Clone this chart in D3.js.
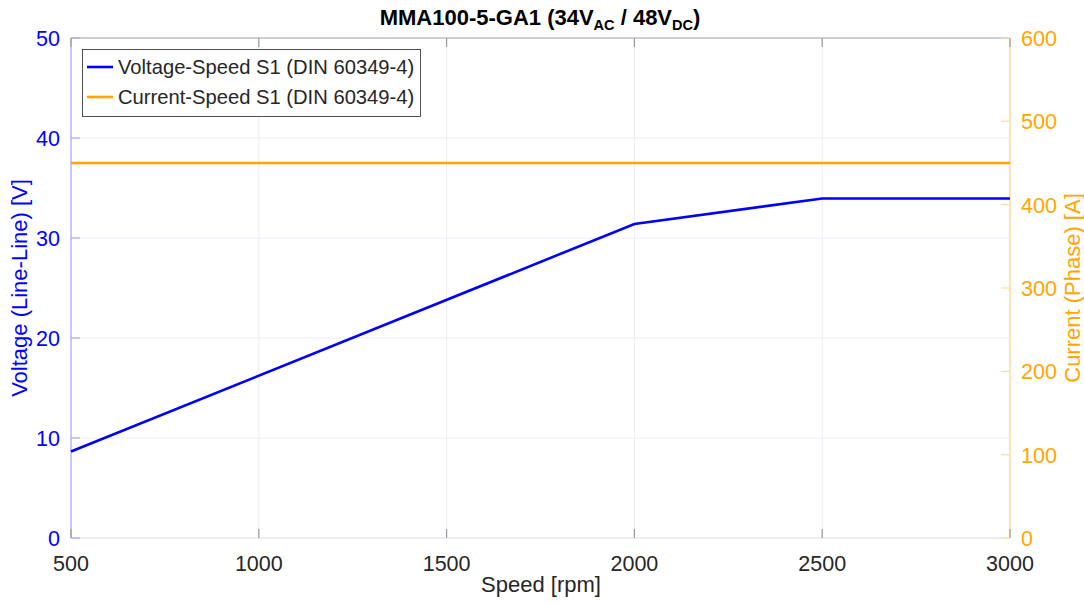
<!DOCTYPE html>
<html><head><meta charset="utf-8">
<script src="https://cdn.jsdelivr.net/npm/d3@7"></script>
<style>body{margin:0;background:#fff;font-family:"Liberation Sans",Arial,sans-serif;}</style>
</head><body>
<svg id="c" width="1084" height="603"></svg>
<script>
const speed = [500, 2000, 2500, 3000];
const voltage = [8.65, 31.4, 33.95, 33.95];
const currentSpeed = [500, 3000];
const current = [450, 450];
const xTicks = [500, 1000, 1500, 2000, 2500, 3000];
const yLeftTicks = [0, 10, 20, 30, 40, 50];
const yRightTicks = [0, 100, 200, 300, 400, 500, 600];

const svg = d3.select("#c");
const L = 71, R = 1010, T = 38, B = 538;
const x = d3.scaleLinear().domain([500, 3000]).range([L, R]);
const yL = d3.scaleLinear().domain([0, 50]).range([B, T]);
const yR = d3.scaleLinear().domain([0, 600]).range([B, T]);
const blue = "#0000ff", orange = "#ffa500";

// grid
svg.append("g").selectAll("line").data(xTicks).join("line")
  .attr("x1", d => x(d)).attr("x2", d => x(d)).attr("y1", T).attr("y2", B)
  .attr("stroke", "#ececf2").attr("stroke-width", 1);
svg.append("g").selectAll("line").data(yLeftTicks).join("line")
  .attr("x1", L).attr("x2", R).attr("y1", d => yL(d)).attr("y2", d => yL(d))
  .attr("stroke", "#ececf8").attr("stroke-width", 1);

// frame
svg.append("line").attr("x1", L).attr("x2", R).attr("y1", T).attr("y2", T).attr("stroke", "#aaaaaa").attr("stroke-width", 1.2);
svg.append("line").attr("x1", L).attr("x2", R).attr("y1", B).attr("y2", B).attr("stroke", "#e6e6ee").attr("stroke-width", 1.2);
svg.append("line").attr("x1", L).attr("x2", L).attr("y1", T).attr("y2", B).attr("stroke", "#a8a8ff").attr("stroke-width", 1.2);
svg.append("line").attr("x1", R).attr("x2", R).attr("y1", T).attr("y2", B).attr("stroke", "#ffdca0").attr("stroke-width", 1.5);

// x ticks (inward, bottom & top)
const fnt = "'Liberation Sans', Arial, sans-serif";
const xg = svg.append("g");
xg.selectAll(".tb").data(xTicks).join("line").attr("x1", d => x(d)).attr("x2", d => x(d)).attr("y1", B).attr("y2", B - 9).attr("stroke", "#999").attr("stroke-width", 1.2);
xg.selectAll(".tt").data(xTicks).join("line").attr("x1", d => x(d)).attr("x2", d => x(d)).attr("y1", T).attr("y2", T + 9).attr("stroke", "#999").attr("stroke-width", 1.2);
xg.selectAll("text").data(xTicks).join("text").attr("x", d => x(d)).attr("y", 571)
  .attr("text-anchor", "middle").attr("font-family", fnt).attr("font-size", 21.5).attr("fill", "#262626").text(d => d);

// left ticks
const lg = svg.append("g");
lg.selectAll("line").data(yLeftTicks).join("line").attr("x1", L).attr("x2", L + 9).attr("y1", d => yL(d)).attr("y2", d => yL(d)).attr("stroke", "#a8a8ff").attr("stroke-width", 1.2);
lg.selectAll("text").data(yLeftTicks).join("text").attr("x", 60).attr("y", d => yL(d) + 8)
  .attr("text-anchor", "end").attr("font-family", fnt).attr("font-size", 21.5).attr("fill", blue).text(d => d);

// right ticks
const rg = svg.append("g");
rg.selectAll("line").data(yRightTicks).join("line").attr("x1", R).attr("x2", R - 9).attr("y1", d => yR(d)).attr("y2", d => yR(d)).attr("stroke", "#ffdca0").attr("stroke-width", 1.2);
rg.selectAll("text").data(yRightTicks).join("text").attr("x", 1021).attr("y", d => yR(d) + 8)
  .attr("text-anchor", "start").attr("font-family", fnt).attr("font-size", 21.5).attr("fill", orange).text(d => d);

// lines
svg.append("path").datum(currentSpeed.map((s, i) => [s, current[i]]))
  .attr("d", d3.line().x(d => x(d[0])).y(d => yR(d[1])))
  .attr("fill", "none").attr("stroke", orange).attr("stroke-width", 2.6);
svg.append("path").datum(speed.map((s, i) => [s, voltage[i]]))
  .attr("d", d3.line().x(d => x(d[0])).y(d => yL(d[1])))
  .attr("fill", "none").attr("stroke", blue).attr("stroke-width", 2.6);

// axis labels
svg.append("text").attr("x", 541).attr("y", 592).attr("text-anchor", "middle").attr("font-family", fnt).attr("font-size", 22).attr("fill", "#262626").text("Speed [rpm]");
svg.append("text").attr("transform", "translate(27,288) rotate(-90)").attr("text-anchor", "middle").attr("font-family", fnt).attr("font-size", 22).attr("fill", blue).text("Voltage (Line-Line) [V]");
svg.append("text").attr("transform", "translate(1080,288) rotate(-90)").attr("text-anchor", "middle").attr("font-family", fnt).attr("font-size", 22).attr("fill", orange).text("Current (Phase) [A]");

// title
const title = svg.append("text").attr("x", 540).attr("y", 25).attr("text-anchor", "middle").attr("font-family", fnt).attr("font-size", 22).attr("font-weight", "bold").attr("fill", "#000");
title.append("tspan").text("MMA100-5-GA1 (34V");
title.append("tspan").attr("font-size", 14.5).attr("dy", 5).text("AC");
title.append("tspan").attr("dy", -5).text(" / 48V");
title.append("tspan").attr("font-size", 14.5).attr("dy", 5).text("DC");
title.append("tspan").attr("dy", -5).text(")");

// legend
const legendNames = ["Voltage-Speed S1 (DIN 60349-4)", "Current-Speed S1 (DIN 60349-4)"];
const legendColors = [blue, orange];
const lgG = svg.append("g");
lgG.append("rect").attr("x", 82.5).attr("y", 49.5).attr("width", 338).attr("height", 67).attr("fill", "#fff").attr("stroke", "#262626").attr("stroke-width", 0.8);
legendNames.forEach((n, i) => {
  const yy = 67 + i * 30;
  lgG.append("line").attr("x1", 87).attr("x2", 113).attr("y1", yy).attr("y2", yy).attr("stroke", legendColors[i]).attr("stroke-width", 2.6);
  lgG.append("text").attr("x", 118).attr("y", yy + 7).attr("font-family", fnt).attr("font-size", 20.2).attr("fill", "#262626").text(n);
});
</script>
</body></html>
